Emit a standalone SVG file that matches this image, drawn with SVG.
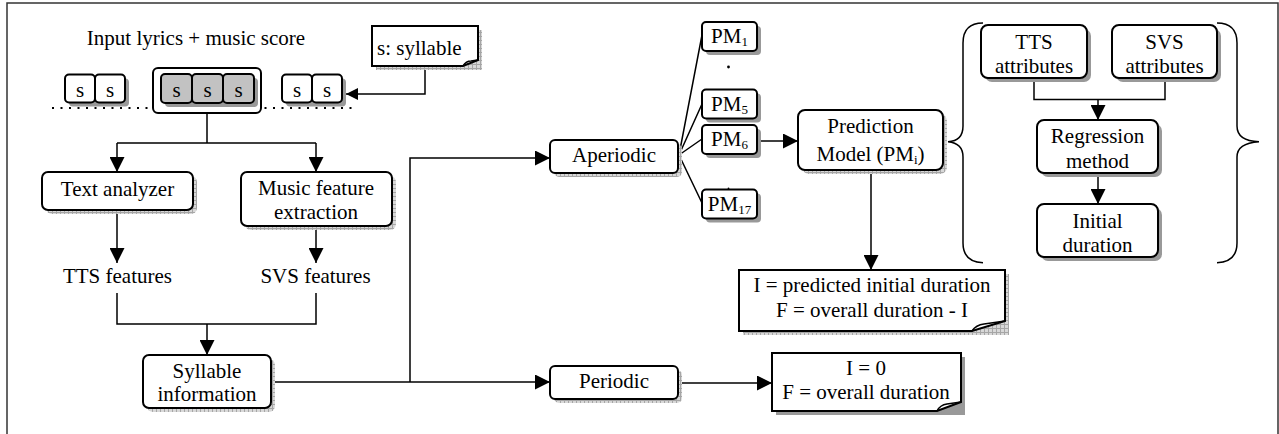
<svg xmlns="http://www.w3.org/2000/svg" width="1279" height="434" viewBox="0 0 1279 434">
<style>
text{font-family:"Liberation Serif","Times New Roman",serif;font-size:21px;fill:#000;text-anchor:middle}
.box{fill:#fff;stroke:#000;stroke-width:2}
.gbox{fill:#c2c2c2;stroke:#000;stroke-width:2}
.sh{fill:url(#hatch)}
.shs{fill:#999}
.ln{fill:none;stroke:#000;stroke-width:1.5}
.arr{fill:none;stroke:#000;stroke-width:1.5;marker-end:url(#ah)}
.brace{fill:none;stroke:#000;stroke-width:1.5}
.sl{font-size:21px}
.sub{font-size:13px}
</style>
<defs>
<pattern id="hatch" width="4" height="4" patternUnits="userSpaceOnUse">
<rect width="4" height="4" fill="#d8d8d8"/>
<path d="M0,0.5H4M0.5,0V4" stroke="#a6a6a6" stroke-width="1"/>
</pattern>
<marker id="ah" markerUnits="userSpaceOnUse" markerWidth="15" markerHeight="15" refX="15" refY="7.5" orient="auto">
<path d="M0,0 L15,7.5 L0,15 Z" fill="#000"/>
</marker>
<marker id="ahs" markerUnits="userSpaceOnUse" markerWidth="12" markerHeight="12" refX="12" refY="6" orient="auto">
<path d="M0,0 L12,6 L0,12 Z" fill="#000"/>
</marker>
</defs>

<path d="M7,434 V3 H1278 V434" fill="none" stroke="#333" stroke-width="1.5"/>

<g id="title"><text x="196" y="45">Input lyrics + music score</text></g>

<g id="syllables">
<line x1="52" y1="108" x2="358" y2="108" stroke="#000" stroke-width="2.2" stroke-dasharray="2,6.5"/>
<rect class="shs" x="69" y="78.5" width="60" height="28" rx="4"/>
<rect class="box" x="65" y="74.5" width="30" height="28" rx="4"/>
<rect class="box" x="95" y="74.5" width="30" height="28" rx="4"/>
<text class="sl" x="80" y="97">s</text><text class="sl" x="110" y="97">s</text>
<rect class="box" x="153" y="68" width="108" height="45" rx="5" stroke-width="1.3"/>
<rect class="shs" x="165" y="78" width="93" height="29" rx="4"/>
<rect class="gbox" x="161" y="74" width="31" height="29" rx="4"/>
<rect class="gbox" x="192" y="74" width="31" height="29" rx="4"/>
<rect class="gbox" x="223" y="74" width="31" height="29" rx="4"/>
<text class="sl" x="176.5" y="97">s</text><text class="sl" x="207.5" y="97">s</text><text class="sl" x="238.5" y="97">s</text>
<rect class="shs" x="286" y="78.5" width="60" height="28" rx="4"/>
<rect class="box" x="282" y="74.5" width="30" height="28" rx="4"/>
<rect class="box" x="312" y="74.5" width="30" height="28" rx="4"/>
<text class="sl" x="297" y="97">s</text><text class="sl" x="327" y="97">s</text>
</g>

<g id="connectors">
<path class="ln" d="M425,66 V94 H358"/>
<path d="M358,94 H346" fill="none" stroke="#000" stroke-width="1.5" marker-end="url(#ahs)"/>
<path class="ln" d="M207,113 V143 M117,143 H316"/>
<path class="arr" d="M117,143 V172"/>
<path class="arr" d="M316,143 V172"/>
<path class="arr" d="M117,210 V263"/>
<path class="arr" d="M316,226 V263"/>
<path class="ln" d="M117,293 V324 H316 V293"/>
<path class="arr" d="M207,324 V355"/>
<path class="arr" d="M271,382 H550"/>
<path class="arr" d="M410,382 V158 H550"/>
<path class="ln" d="M679,155 L702,35 M679,155 L702,104 M679,155 L702,139 M679,155 L702,203"/>
<path class="arr" d="M757,141 H798"/>
<path class="arr" d="M871,170 V270"/>
<path class="arr" d="M678,383 H772"/>
<path class="ln" d="M1034,78 V99.5 H1165 V78"/>
<path class="arr" d="M1098,99.5 V120"/>
<path class="arr" d="M1098,173 V204"/>
</g>

<g id="note-syllable">
<rect class="sh" x="376" y="30" width="106" height="40"/>
<path class="box" d="M372,26 H478 V60 L463,66 H372 Z"/>
<path class="ln" d="M463,66 Q466,61 471,61 L478,60"/>
<text x="377" y="55" style="text-anchor:start">s: syllable</text>
</g>

<g id="text-analyzer">
<rect class="sh" x="46" y="176" width="151" height="38" rx="6"/>
<rect class="box" x="42" y="172" width="151" height="38" rx="6"/>
<text x="117.5" y="196">Text analyzer</text>
</g>

<g id="music-feature">
<rect class="sh" x="245" y="176" width="151" height="54" rx="6"/>
<rect class="box" x="241" y="172" width="151" height="54" rx="6"/>
<text x="316" y="195">Music feature</text>
<text x="316" y="219">extraction</text>
</g>

<g id="tts-features"><text x="117.5" y="283">TTS features</text></g>
<g id="svs-features"><text x="315.5" y="283">SVS features</text></g>

<g id="syllable-info">
<rect class="sh" x="147" y="359" width="128" height="53" rx="6"/>
<rect class="box" x="143" y="355" width="128" height="53" rx="6"/>
<text x="207" y="378">Syllable</text>
<text x="207" y="401">information</text>
</g>

<g id="aperiodic">
<rect class="sh" x="554" y="144" width="128" height="33" rx="5"/>
<rect class="box" x="550" y="140" width="128" height="33" rx="5"/>
<text x="614" y="162">Aperiodic</text>
</g>

<g id="periodic">
<rect class="sh" x="554" y="370" width="128" height="33" rx="5"/>
<rect class="box" x="550" y="366" width="128" height="33" rx="5"/>
<text x="614" y="388">Periodic</text>
</g>

<g id="pm1">
<rect class="shs" x="706" y="26" width="55" height="29" rx="4"/>
<rect class="box" x="702" y="22" width="55" height="29" rx="4"/>
<text x="729.5" y="43">PM<tspan class="sub" dy="3">1</tspan></text>
</g>
<g id="pm-dots">
<circle cx="728.5" cy="67" r="1.4"/>
<circle cx="728.5" cy="188.5" r="0.9"/>
</g>
<g id="pm5">
<rect class="shs" x="706" y="93.5" width="55" height="29" rx="4"/>
<rect class="box" x="702" y="89.5" width="55" height="29" rx="4"/>
<text x="729.5" y="110.5">PM<tspan class="sub" dy="3">5</tspan></text>
</g>
<g id="pm6">
<rect class="shs" x="706" y="129" width="55" height="29" rx="4"/>
<rect class="box" x="702" y="125" width="55" height="29" rx="4"/>
<text x="729.5" y="146">PM<tspan class="sub" dy="3">6</tspan></text>
</g>
<g id="pm17">
<rect class="shs" x="706" y="193.5" width="55" height="29" rx="4"/>
<rect class="box" x="702" y="189.5" width="55" height="29" rx="4"/>
<text x="729.5" y="211">PM<tspan class="sub" dy="3">17</tspan></text>
</g>

<g id="prediction-model">
<rect class="sh" x="802" y="114" width="145" height="60" rx="7"/>
<rect class="box" x="798" y="110" width="145" height="60" rx="7"/>
<text x="870.5" y="133">Prediction</text>
<text x="870.5" y="161">Model (PM<tspan class="sub" dy="3">i</tspan><tspan dy="-3">)</tspan></text>
</g>

<g id="note-aperiodic">
<rect class="sh" x="743" y="274" width="266" height="61"/>
<path class="box" d="M739,270 H1005 V321 L972,331 H739 Z"/>
<path class="ln" d="M972,331 Q976,325 984,324 L1005,321"/>
<text x="872" y="292">I = predicted initial duration</text>
<text x="872" y="317">F = overall duration - I</text>
</g>

<g id="note-periodic">
<rect class="shs" x="776" y="357" width="189" height="58"/>
<path class="box" d="M772,353 H961 V402 L937,411 H772 Z"/>
<path class="ln" d="M937,411 Q940,405 947,404 L961,402"/>
<text x="866" y="375">I = 0</text>
<text x="866" y="399">F = overall duration</text>
</g>

<g id="braces">
<path class="brace" d="M983,23 Q963,23 963,43 V126 Q963,141 948,141.7 Q963,143 963,157 V243 Q963,262 983,262.7"/>
<path class="brace" d="M1217,23 Q1237,23 1237,43 V126 Q1237,141 1259,141.7 Q1237,143 1237,157 V243 Q1237,262 1217,262.7"/>
</g>

<g id="tts-attributes">
<rect class="shs" x="985" y="29" width="106" height="53" rx="7"/>
<rect class="box" x="981" y="25" width="106" height="53" rx="7"/>
<text x="1034" y="49">TTS</text>
<text x="1034" y="72.5">attributes</text>
</g>
<g id="svs-attributes">
<rect class="shs" x="1116" y="29" width="105" height="53" rx="7"/>
<rect class="box" x="1112" y="25" width="105" height="53" rx="7"/>
<text x="1164.5" y="49">SVS</text>
<text x="1164.5" y="72.5">attributes</text>
</g>
<g id="regression">
<rect class="shs" x="1041" y="124" width="121" height="53" rx="7"/>
<rect class="box" x="1037" y="120" width="121" height="53" rx="7"/>
<text x="1097.5" y="143">Regression</text>
<text x="1097.5" y="168">method</text>
</g>
<g id="initial-duration">
<rect class="shs" x="1041" y="208" width="121" height="53" rx="7"/>
<rect class="box" x="1037" y="204" width="121" height="53" rx="7"/>
<text x="1097.5" y="228">Initial</text>
<text x="1097.5" y="252">duration</text>
</g>
</svg>
